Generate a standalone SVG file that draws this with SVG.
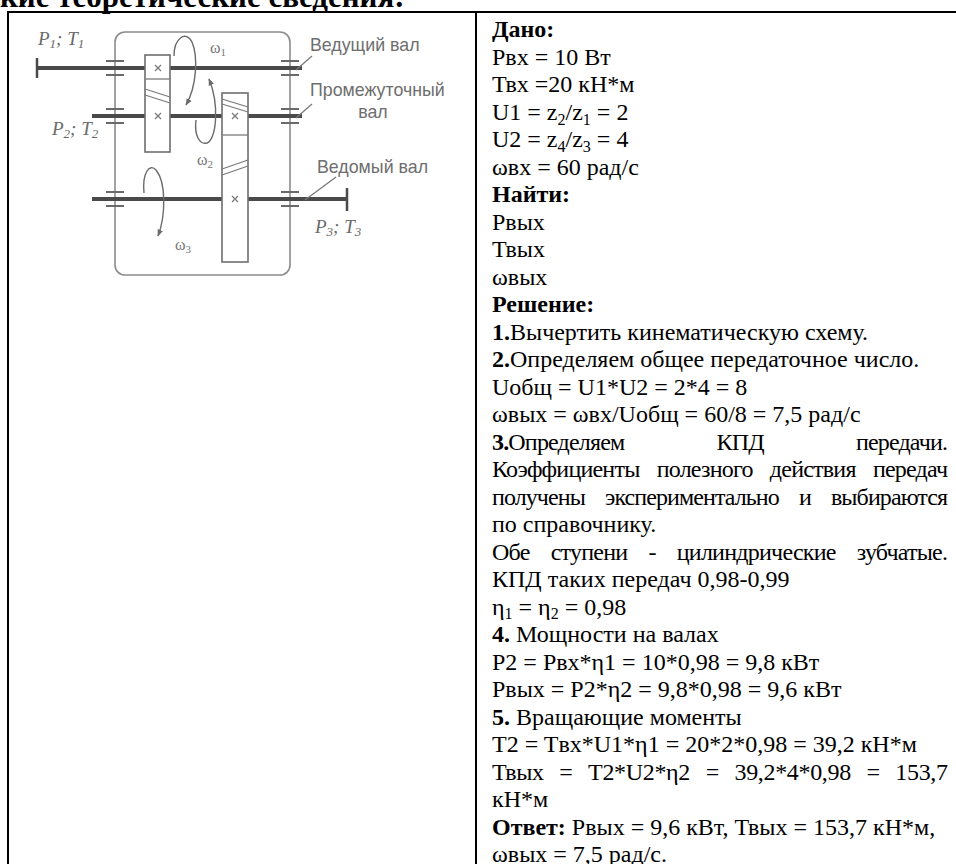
<svg xmlns="http://www.w3.org/2000/svg" width="956" height="864" viewBox="0 0 956 864">
<defs>
<style>
.t{font-family:"Liberation Serif","Times New Roman",serif;font-size:24px;fill:#000}
.b{font-weight:bold}
.sub{font-size:16px}
.hdr{font-family:"Liberation Serif","Times New Roman",serif;font-size:31px;font-weight:bold;fill:#000}
.tb{stroke:#000;stroke-width:2;fill:none}
.shaft{stroke:#4a4a4a;stroke-width:4;fill:none}
.cap{stroke:#4a4a4a;stroke-width:2.5;fill:none}
.brg{stroke:#6a6a6a;stroke-width:2;fill:none}
.hous{stroke:#8c8c8c;stroke-width:1.6;fill:none}
.gear{stroke:#6e6e6e;stroke-width:1.6;fill:#fff}
.thin{stroke:#7a7a7a;stroke-width:1.3;fill:none}
.rot{stroke:#6a6a6a;stroke-width:1.4;fill:none;marker-end:url(#ah)}
.lbl{font-family:"Liberation Serif","Times New Roman",serif;font-style:italic;font-size:19px;fill:#6a6a6a}
.ls{font-size:13px}
.om{font-family:"Liberation Serif","Times New Roman",serif;font-size:16px;fill:#777}
.os{font-size:11px}
.sans{font-family:"Liberation Sans",Arial,sans-serif;font-size:17.8px;fill:#6e6e6e}
</style>
<marker id="ah" viewBox="0 0 10 10" refX="9" refY="5" markerWidth="5" markerHeight="5" orient="auto">
<path d="M0,1 L10,5 L0,9 z" fill="#6a6a6a"/>
</marker>
</defs>
<rect width="956" height="864" fill="#fff"/>

<g id="heading">
<text class="hdr" x="0" y="7">кие теоретические сведения:</text>
</g>

<g id="table">
<line class="tb" x1="7" y1="12" x2="956" y2="12"/>
<line class="tb" x1="8" y1="11" x2="8" y2="864"/>
<line class="tb" x1="476" y1="11" x2="476" y2="864"/>
</g>

<g id="gearbox">
<rect class="hous" x="115" y="32" width="175" height="243" rx="10"/>
<g id="shafts">
<line class="shaft" x1="37" y1="68" x2="302" y2="68"/>
<line class="cap" x1="37" y1="58" x2="37" y2="78"/>
<line class="shaft" x1="92" y1="116" x2="302" y2="116"/>
<line class="shaft" x1="92" y1="199" x2="347" y2="199"/>
<line class="cap" x1="347" y1="188" x2="347" y2="211"/>
</g>
<g id="bearings">
<path class="brg" d="M106 61H124M106 75H124M281 61H299M281 75H299"/>
<path class="brg" d="M106 109H124M106 123H124M281 109H299M281 123H299"/>
<path class="brg" d="M106 192H124M106 206H124M281 192H299M281 206H299"/>
</g>
<g id="gear1">
<rect class="gear" x="145" y="55" width="25" height="97"/>
<line class="thin" x1="145" y1="79" x2="170" y2="79"/>
<line class="thin" x1="145" y1="89" x2="170" y2="97"/>
<line class="thin" x1="145" y1="95" x2="170" y2="103"/>
<path class="thin" d="M155 65L161 71M161 65L155 71M155 113L161 119M161 113L155 119"/>
</g>
<g id="gear2">
<rect class="gear" x="222" y="93" width="26" height="169"/>
<line class="thin" x1="222" y1="135" x2="248" y2="135"/>
<line class="thin" x1="222" y1="99" x2="248" y2="107"/>
<line class="thin" x1="222" y1="104" x2="248" y2="112"/>
<line class="thin" x1="222" y1="169" x2="248" y2="160"/>
<line class="thin" x1="222" y1="175" x2="248" y2="166"/>
<path class="thin" d="M232 113L238 119M238 113L232 119M232 196L238 202M238 196L232 202"/>
</g>
<g id="rotations">
<path class="rot" d="M174 56 C174 38 186 30 192 42 C198 56 197 86 186 105"/>
<path class="rot" d="M196 120 C194 136 200 145 207 143 C216 140 220 106 209 79"/>
<path class="rot" d="M144 193 C142 172 150 163 156 170 C166 182 166 215 158 236"/>
</g>
<g id="leaders">
<line class="thin" x1="296" y1="70" x2="312" y2="56"/>
<line class="thin" x1="296" y1="118" x2="312" y2="104"/>
<line class="thin" x1="305" y1="200" x2="336" y2="177"/>
</g>
<g id="labels">
<text class="lbl" x="38" y="45">P<tspan class="ls" dy="3">1</tspan><tspan dy="-3">; T</tspan><tspan class="ls" dy="3">1</tspan></text>
<text class="lbl" x="52" y="135">P<tspan class="ls" dy="3">2</tspan><tspan dy="-3">; T</tspan><tspan class="ls" dy="3">2</tspan></text>
<text class="lbl" x="315" y="233">P<tspan class="ls" dy="3">3</tspan><tspan dy="-3">; T</tspan><tspan class="ls" dy="3">3</tspan></text>
<text class="om" x="210" y="53">ω<tspan class="os" dy="3">1</tspan></text>
<text class="om" x="197" y="165">ω<tspan class="os" dy="3">2</tspan></text>
<text class="om" x="175" y="250">ω<tspan class="os" dy="3">3</tspan></text>
<text class="sans" x="310" y="51">Ведущий вал</text>
<text class="sans" x="310" y="96">Промежуточный</text>
<text class="sans" x="373" y="118" text-anchor="middle">вал</text>
<text class="sans" x="317" y="173">Ведомый вал</text>
</g>
</g>

<g id="solution">
<text class="t b" x="492" y="37">Дано:</text>
<text class="t" x="492" y="64.5">Рвх = 10 Вт</text>
<text class="t" x="492" y="92">Твх =20 кН*м</text>
<text class="t" x="492" y="119.5">U1 = z<tspan class="sub" dy="5">2</tspan><tspan dy="-5">/z</tspan><tspan class="sub" dy="5">1</tspan><tspan dy="-5"> = 2</tspan></text>
<text class="t" x="492" y="147">U2 = z<tspan class="sub" dy="5">4</tspan><tspan dy="-5">/z</tspan><tspan class="sub" dy="5">3</tspan><tspan dy="-5"> = 4</tspan></text>
<text class="t" x="492" y="174.5">ωвх = 60 рад/с</text>
<text class="t b" x="492" y="202">Найти:</text>
<text class="t" x="492" y="229.5">Рвых</text>
<text class="t" x="492" y="257">Твых</text>
<text class="t" x="492" y="284.5">ωвых</text>
<text class="t b" x="492" y="312">Решение:</text>
<text class="t" x="492" y="339.5"><tspan class="b">1.</tspan>Вычертить кинематическую схему.</text>
<text class="t" x="492" y="367"><tspan class="b">2.</tspan>Определяем общее передаточное число.</text>
<text class="t" x="492" y="394.5">Uобщ = U1*U2 = 2*4 = 8</text>
<text class="t" x="492" y="422">ωвых = ωвх/Uобщ = 60/8 = 7,5 рад/с</text>
<text class="t" x="492" y="449.5" word-spacing="87" textLength="456" lengthAdjust="spacing"><tspan class="b">3.</tspan>Определяем КПД передачи.</text>
<text class="t" x="492" y="477" word-spacing="12" textLength="456" lengthAdjust="spacing">Коэффициенты полезного действия передач</text>
<text class="t" x="492" y="504.5" word-spacing="15" textLength="456" lengthAdjust="spacing">получены экспериментально и выбираются</text>
<text class="t" x="492" y="532">по справочнику.</text>
<text class="t" x="492" y="559.5" word-spacing="15.8" textLength="456" lengthAdjust="spacing">Обе ступени - цилиндрические зубчатые.</text>
<text class="t" x="492" y="587">КПД таких передач 0,98-0,99</text>
<text class="t" x="492" y="614.5">η<tspan class="sub" dy="4">1</tspan><tspan dy="-4"> = η</tspan><tspan class="sub" dy="4">2</tspan><tspan dy="-4"> = 0,98</tspan></text>
<text class="t" x="492" y="642"><tspan class="b">4.</tspan> Мощности на валах</text>
<text class="t" x="492" y="669.5">P2 = Pвх*η1 = 10*0,98 = 9,8 кВт</text>
<text class="t" x="492" y="697">Рвых = P2*η2 = 9,8*0,98 = 9,6 кВт</text>
<text class="t" x="492" y="724.5"><tspan class="b">5.</tspan> Вращающие моменты</text>
<text class="t" x="492" y="752">T2 = Tвх*U1*η1 = 20*2*0,98 = 39,2 кН*м</text>
<text class="t" x="492" y="779.5" word-spacing="10" textLength="456" lengthAdjust="spacing">Твых = T2*U2*η2 = 39,2*4*0,98 = 153,7</text>
<text class="t" x="492" y="807">кН*м</text>
<text class="t" x="492" y="834.5"><tspan class="b">Ответ:</tspan> Рвых = 9,6 кВт, Твых = 153,7 кН*м,</text>
<text class="t" x="492" y="862">ωвых = 7,5 рад/с.</text>
</g>
</svg>
